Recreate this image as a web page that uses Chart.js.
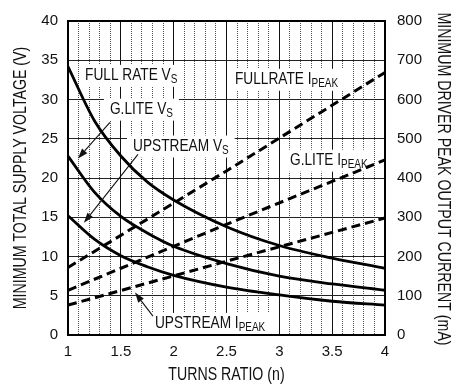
<!DOCTYPE html>
<html>
<head>
<meta charset="utf-8">
<script src="https://cdn.jsdelivr.net/npm/chart.js@4/dist/chart.umd.min.js"></script>
<style>
html,body{margin:0;padding:0;background:#fff;}
canvas{display:block;}
</style>
</head>
<body>
<canvas id="grafica" width="451" height="386"></canvas>
<script>
// relacion de vueltas (n) para las curvas de tension
const turns = [1, 1.25, 1.5, 1.75, 2, 2.5, 3, 3.5, 4];
const fullRateVs = [34.2, 27.3, 22.8, 19.5, 17.2, 13.8, 11.4, 9.8, 8.5];
const gliteVs = [22.8, 18.2, 15.1, 13.0, 11.3, 9.1, 7.5, 6.5, 5.7];
const upstreamVs = [15.2, 12.2, 10.1, 8.7, 7.6, 6.1, 5.1, 4.3, 3.8];

// corriente de pico (mA), lineas rectas
const turnsIpeak = [1, 2.5, 4];
const fullRateIpeak = [172, 418, 669];
const gliteIpeak = [114, 282, 446];
const upstreamIpeak = [76, 188, 298];

const majorTurns = [1, 1.5, 2, 2.5, 3, 3.5, 4];

const FUENTE = '"Liberation Sans", Arial, sans-serif';
const isMajor = v => majorTurns.some(t => Math.abs(t - v) < 1e-6);
const puntos = (xs, ys) => xs.map((x, i) => ({x: x, y: ys[i]}));

// textos dentro del grafico (posicion en unidades de datos: n, voltios)
const etiquetas = [
  {texto: 'FULL RATE V', sub: 'S', n: 1.161, v: 32.5},
  {texto: 'G.LITE V', sub: 'S', n: 1.397, v: 28.2},
  {texto: 'UPSTREAM V', sub: 'S', n: 1.615, v: 23.5},
  {texto: 'FULLRATE I', sub: 'PEAK', n: 2.58, v: 32.0},
  {texto: 'G.LITE I', sub: 'PEAK', n: 3.101, v: 21.7},
  {texto: 'UPSTREAM I', sub: 'PEAK', n: 1.823, v: 0.9}
];

const flechas = [
  {desde: [1.397, 27.1], hasta: [1.095, 22.5]},
  {desde: [1.662, 23.0], hasta: [1.151, 14.3]},
  {desde: [1.804, 2.4], hasta: [1.634, 5.4]}
];

const ESC = 0.83;

function anchoEtiqueta(ctx, e) {
  ctx.font = '16.5px ' + FUENTE;
  const w1 = ctx.measureText(e.texto).width;
  ctx.font = '12px ' + FUENTE;
  const w2 = ctx.measureText(e.sub).width;
  return (w1 + w2) * ESC;
}

function escribir(ctx, e, x, y) {
  ctx.save();
  ctx.translate(x, y);
  ctx.scale(ESC, 1);
  ctx.fillStyle = '#111';
  ctx.textBaseline = 'alphabetic';
  ctx.textAlign = 'left';
  ctx.font = '16.5px ' + FUENTE;
  ctx.fillText(e.texto, 0, 0);
  const w1 = ctx.measureText(e.texto).width;
  ctx.font = '12px ' + FUENTE;
  ctx.fillText(e.sub, w1, 3);
  ctx.restore();
}

function flecha(ctx, x0, y0, x1, y1) {
  const ang = Math.atan2(y1 - y0, x1 - x0);
  const largo = 10, ancho = 3.5;
  const bx = x1 - largo * Math.cos(ang), by = y1 - largo * Math.sin(ang);
  ctx.save();
  ctx.strokeStyle = '#111';
  ctx.fillStyle = '#111';
  ctx.lineWidth = 1.1;
  ctx.beginPath();
  ctx.moveTo(x0, y0);
  ctx.lineTo(bx, by);
  ctx.stroke();
  ctx.beginPath();
  ctx.moveTo(x1, y1);
  ctx.lineTo(bx + ancho * Math.sin(ang), by - ancho * Math.cos(ang));
  ctx.lineTo(bx - ancho * Math.sin(ang), by + ancho * Math.cos(ang));
  ctx.closePath();
  ctx.fill();
  ctx.restore();
}

function tituloRotado(ctx, texto, x, y, ang) {
  ctx.save();
  ctx.translate(x, y);
  ctx.rotate(ang);
  ctx.scale(0.81, 1);
  ctx.font = '17.5px ' + FUENTE;
  ctx.fillStyle = '#111';
  ctx.textAlign = 'center';
  ctx.textBaseline = 'alphabetic';
  ctx.fillText(texto, 0, 0);
  ctx.restore();
}

const anotaciones = {
  id: 'anotaciones',
  beforeDatasetsDraw(chart) {
    const {ctx, scales: {x, y}} = chart;
    ctx.save();
    ctx.fillStyle = '#fff';
    etiquetas.forEach(e => {
      const px = x.getPixelForValue(e.n), py = y.getPixelForValue(e.v);
      const w = anchoEtiqueta(ctx, e);
      ctx.fillRect(px - 6, py - 15, w + 12, 22);
    });
    ctx.restore();
  },
  afterDatasetsDraw(chart) {
    const {ctx, chartArea: a, scales: {x, y}} = chart;
    etiquetas.forEach(e => escribir(ctx, e, x.getPixelForValue(e.n), y.getPixelForValue(e.v)));
    flechas.forEach(f => flecha(ctx,
      x.getPixelForValue(f.desde[0]), y.getPixelForValue(f.desde[1]),
      x.getPixelForValue(f.hasta[0]), y.getPixelForValue(f.hasta[1])));
    // marco
    ctx.save();
    ctx.strokeStyle = '#000';
    ctx.lineWidth = 2;
    ctx.strokeRect(a.left, a.top, a.right - a.left, a.bottom - a.top);
    ctx.restore();
    // titulos de ejes
    const cx = (a.left + a.right) / 2, cy = (a.top + a.bottom) / 2;
    tituloRotado(ctx, 'TURNS RATIO (n)', cx, 380, 0);
    tituloRotado(ctx, 'MINIMUM TOTAL SUPPLY VOLTAGE (V)', 26, cy, -Math.PI / 2);
    tituloRotado(ctx, 'MINIMUM DRIVER PEAK OUTPUT CURRENT (mA)', 438, cy + 1, Math.PI / 2);
  }
};

const solida = (label, data) => ({
  label: label, data: data, yAxisID: 'y',
  borderColor: '#000', borderWidth: 2.8, pointRadius: 0,
  cubicInterpolationMode: 'monotone', fill: false
});
const rayada = (label, data) => ({
  label: label, data: data, yAxisID: 'y1',
  borderColor: '#000', borderWidth: 3, borderDash: [9, 5], pointRadius: 0, fill: false
});

new Chart(document.getElementById('grafica'), {
  type: 'line',
  data: {
    datasets: [
      solida('FULL RATE VS', puntos(turns, fullRateVs)),
      solida('G.LITE VS', puntos(turns, gliteVs)),
      solida('UPSTREAM VS', puntos(turns, upstreamVs)),
      rayada('FULLRATE IPEAK', puntos(turnsIpeak, fullRateIpeak)),
      rayada('G.LITE IPEAK', puntos(turnsIpeak, gliteIpeak)),
      rayada('UPSTREAM IPEAK', puntos(turnsIpeak, upstreamIpeak))
    ]
  },
  options: {
    responsive: false,
    animation: false,
    devicePixelRatio: 1,
    layout: {padding: {top: 18, left: 0, right: 0, bottom: 0}},
    plugins: {legend: {display: false}, tooltip: {enabled: false}},
    scales: {
      x: {
        type: 'linear', min: 1, max: 4,
        ticks: {
          stepSize: 0.1, autoSkip: false, maxRotation: 0, padding: 8,
          color: '#111', font: {family: FUENTE, size: 15},
          callback: v => isMajor(v) ? String(Math.round(v * 10) / 10) : ''
        },
        grid: {
          drawTicks: false, lineWidth: 1,
          color: c => (c.tick && isMajor(c.tick.value)) ? '#111' : '#555'
        },
        border: {display: false, dash: c => (c.tick && !isMajor(c.tick.value)) ? [1, 1] : []},
        afterFit: s => { s.height = 51; }
      },
      y: {
        position: 'left', min: 0, max: 40,
        ticks: {stepSize: 5, padding: 10, color: '#111', font: {family: FUENTE, size: 15}},
        grid: {drawTicks: false, color: '#222', lineWidth: 1},
        border: {display: false},
        afterFit: s => { s.width = 68; }
      },
      y1: {
        position: 'right', min: 0, max: 800,
        ticks: {stepSize: 100, padding: 12, color: '#111', font: {family: FUENTE, size: 15}},
        grid: {drawOnChartArea: false, drawTicks: false},
        border: {display: false},
        afterFit: s => { s.width = 66; }
      }
    }
  },
  plugins: [anotaciones]
});
</script>
</body>
</html>
